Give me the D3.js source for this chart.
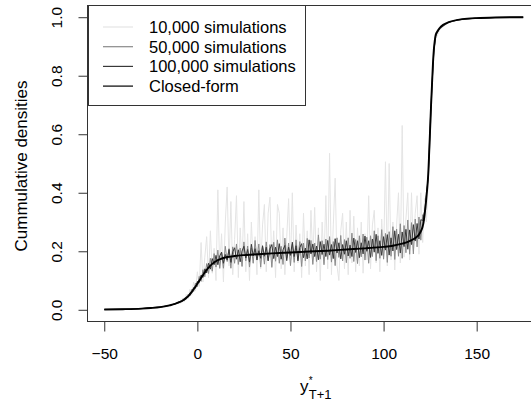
<!DOCTYPE html>
<html>
<head>
<meta charset="utf-8">
<script src="https://cdn.jsdelivr.net/npm/d3@7"></script>
<style>
  html, body { margin: 0; padding: 0; background: #fff; }
  svg { display: block; font-family: "Liberation Sans", Arial, sans-serif; }
</style>
</head>
<body>
<svg id="chart" width="531" height="403"></svg>
<script>
// ---------------- data ----------------
const xTicks = [-50, 0, 50, 100, 150];
const yTicks = [0, 0.2, 0.4, 0.6, 0.8, 1.0];
const legendLabels = ["10,000 simulations", "50,000 simulations", "100,000 simulations", "Closed-form"];

// closed-form cumulative density (x, value)
const closedX = [-50,-40,-30,-25,-20,-15,-12,-10,-8,-6,-4,-2,0,2,4,6,8,10,12,14,17,20,25,30,40,50,60,70,80,90,100,105,110,113,115,117,118,119,120,121,121.5,122,122.5,123,123.5,124,124.5,125,125.5,126,126.5,127,127.5,128,129,130,132,135,140,145,150,160,175];
const closedY = [0.001,0.002,0.004,0.006,0.009,0.015,0.020,0.025,0.031,0.040,0.053,0.070,0.089,0.109,0.128,0.144,0.157,0.166,0.172,0.177,0.181,0.184,0.187,0.189,0.193,0.196,0.199,0.202,0.206,0.210,0.215,0.219,0.226,0.232,0.238,0.245,0.250,0.257,0.268,0.285,0.300,0.325,0.350,0.385,0.420,0.465,0.540,0.620,0.700,0.770,0.840,0.890,0.920,0.940,0.953,0.962,0.974,0.983,0.991,0.995,0.997,0.999,1.000];

// evaluation points of the simulated curves
const simX = [-50,-40,-30,-20,-15,-12].concat(d3.range(-10, 125)).concat([125,126,127,128,130,135,140,150,160,175]);

const sim10k = [0.001,0.002,0.005,0.008,0.017,0.019,
  0.030,0.022,0.040,0.028,0.052,0.038,0.070,0.050,0.095,0.065,
  0.130,0.080,0.230,0.095,0.180,0.250,0.110,0.270,0.125,0.210,
  0.100,0.410,0.140,0.260,0.095,0.300,0.420,0.150,0.370,0.120,
  0.240,0.390,0.110,0.280,0.150,0.370,0.130,0.260,0.100,0.300,
  0.160,0.250,0.120,0.410,0.140,0.290,0.360,0.130,0.330,0.385,
  0.150,0.270,0.110,0.360,0.330,0.140,0.280,0.120,0.250,0.380,
  0.150,0.400,0.130,0.290,0.160,0.260,0.110,0.330,0.150,0.270,
  0.120,0.340,0.170,0.350,0.130,0.280,0.100,0.300,0.160,0.390,
  0.140,0.535,0.120,0.290,0.450,0.150,0.100,0.270,0.330,0.140,
  0.300,0.120,0.340,0.160,0.320,0.130,0.280,0.150,0.300,0.125,
  0.260,0.170,0.390,0.140,0.290,0.340,0.160,0.280,0.130,0.310,
  0.180,0.506,0.150,0.500,0.170,0.300,0.136,0.290,0.400,0.160,
  0.630,0.180,0.310,0.400,0.170,0.400,0.200,0.330,0.390,0.190,
  0.400,0.230,0.380,0.300,0.440,
  0.580,0.740,0.900,0.925,0.955,0.985,0.990,0.996,0.999,1.000];

const sim50k = [0.001,0.002,0.004,0.010,0.014,0.021,
  0.023,0.032,0.028,0.040,0.036,0.053,0.047,0.070,0.062,0.091,
  0.079,0.114,0.097,0.137,0.113,0.158,0.124,0.176,0.132,0.192,
  0.146,0.204,0.142,0.195,0.142,0.217,0.165,0.209,0.142,0.215,
  0.159,0.225,0.155,0.211,0.148,0.232,0.167,0.218,0.146,0.211,
  0.159,0.237,0.172,0.225,0.146,0.216,0.156,0.232,0.170,0.223,
  0.145,0.231,0.166,0.239,0.159,0.217,0.155,0.245,0.176,0.228,
  0.151,0.224,0.162,0.239,0.172,0.233,0.148,0.228,0.167,0.244,
  0.177,0.237,0.155,0.228,0.165,0.256,0.173,0.236,0.154,0.242,
  0.172,0.250,0.163,0.233,0.151,0.246,0.179,0.254,0.167,0.240,
  0.161,0.246,0.176,0.262,0.165,0.240,0.158,0.253,0.181,0.259,
  0.170,0.248,0.159,0.253,0.182,0.270,0.168,0.253,0.176,0.274,
  0.173,0.261,0.162,0.267,0.183,0.284,0.172,0.276,0.183,0.294,
  0.176,0.288,0.195,0.307,0.190,0.298,0.191,0.310,0.215,0.317,
  0.238,0.325,0.305,0.400,0.445,
  0.600,0.765,0.880,0.940,0.961,0.982,0.991,0.997,0.999,1.000];

const sim100k = [0.001,0.002,0.004,0.009,0.015,0.020,
  0.027,0.027,0.034,0.033,0.044,0.043,0.058,0.057,0.076,0.074,
  0.097,0.093,0.119,0.111,0.140,0.126,0.159,0.139,0.175,0.154,
  0.186,0.154,0.184,0.197,0.159,0.189,0.170,0.206,0.162,0.198,
  0.212,0.173,0.205,0.164,0.201,0.217,0.177,0.206,0.163,0.224,
  0.184,0.209,0.170,0.202,0.176,0.219,0.183,0.214,0.167,0.208,
  0.223,0.175,0.214,0.182,0.226,0.173,0.205,0.220,0.168,0.214,
  0.186,0.231,0.182,0.219,0.167,0.213,0.226,0.178,0.211,0.174,
  0.239,0.191,0.225,0.182,0.218,0.171,0.233,0.189,0.224,0.182,
  0.237,0.187,0.223,0.175,0.243,0.194,0.229,0.174,0.223,0.190,
  0.236,0.184,0.221,0.182,0.245,0.196,0.236,0.178,0.229,0.191,
  0.252,0.200,0.236,0.179,0.242,0.197,0.258,0.193,0.236,0.186,
  0.250,0.204,0.257,0.187,0.246,0.201,0.270,0.206,0.258,0.194,
  0.266,0.216,0.275,0.207,0.273,0.223,0.291,0.235,0.295,0.242,
  0.308,0.305,0.335,0.390,0.460,
  0.630,0.770,0.885,0.935,0.962,0.983,0.991,0.997,0.999,1.000];

const seriesColors = ["#e4e4e4", "#8a8a8a", "#383838", "#000000"];

// ---------------- drawing ----------------
const svg = d3.select("#chart");
const W = 531, H = 403;
const plot = { left: 87.5, right: 540, top: 5.5, bottom: 321.5 };

const x = d3.scaleLinear().domain([-59, 184]).range([plot.left, plot.right]);
const y = d3.scaleLinear().domain([-0.04, 1.04]).range([plot.bottom, plot.top]);

svg.append("rect").attr("width", W).attr("height", H).attr("fill", "#fff");

svg.append("clipPath").attr("id", "clip")
  .append("rect").attr("x", plot.left).attr("y", plot.top)
  .attr("width", plot.right - plot.left).attr("height", plot.bottom - plot.top);

const g = svg.append("g").attr("clip-path", "url(#clip)");

const line = d3.line().x(d => x(d[0])).y(d => y(d[1]));
const simSeries = [sim10k, sim50k, sim100k];
simSeries.forEach((vals, i) => {
  g.append("path")
    .datum(simX.map((xv, k) => [xv, vals[k]]))
    .attr("fill", "none")
    .attr("stroke", seriesColors[i])
    .attr("stroke-width", 1)
    .attr("d", line);
});

g.append("path")
  .datum(closedX.map((xv, k) => [xv, closedY[k]]))
  .attr("fill", "none")
  .attr("stroke", seriesColors[3])
  .attr("stroke-width", 1.9)
  .attr("d", d3.line().x(d => x(d[0])).y(d => y(d[1])).curve(d3.curveMonotoneX));

// plot box
svg.append("rect")
  .attr("x", plot.left).attr("y", plot.top)
  .attr("width", plot.right - plot.left).attr("height", plot.bottom - plot.top)
  .attr("fill", "none").attr("stroke", "#333").attr("stroke-width", 1);

// x axis
const xAxis = svg.append("g")
  .attr("transform", `translate(0,${plot.bottom})`)
  .call(d3.axisBottom(x).tickValues(xTicks).tickSize(10).tickFormat(d3.format("d")));
xAxis.select(".domain").remove();
xAxis.selectAll(".tick line").attr("stroke", "#333");
xAxis.selectAll(".tick text")
  .attr("y", 37.5).attr("dy", 0)
  .attr("font-size", "15.5px").attr("font-family", "Liberation Sans, Arial, sans-serif")
  .attr("fill", "#000");

// y axis
const yAxis = svg.append("g")
  .attr("transform", `translate(${plot.left},0)`)
  .call(d3.axisLeft(y).tickValues(yTicks).tickSize(9).tickFormat(d3.format(".1f")));
yAxis.select(".domain").remove();
yAxis.selectAll(".tick line").attr("stroke", "#333");
yAxis.selectAll(".tick text")
  .attr("x", 0).attr("dy", 0)
  .attr("transform", "translate(-26,0) rotate(-90)")
  .attr("text-anchor", "middle")
  .attr("font-size", "15.5px").attr("font-family", "Liberation Sans, Arial, sans-serif")
  .attr("fill", "#000");

// axis titles
svg.append("text")
  .attr("transform", "translate(27,166) rotate(-90)")
  .attr("text-anchor", "middle")
  .attr("font-size", "17px")
  .text("Cummulative densities");

const xt = svg.append("g").attr("font-size", "17px");
xt.append("text").attr("x", 300).attr("y", 392).text("y");
xt.append("text").attr("x", 308.8).attr("y", 384).attr("font-size", "10px").text("*");
xt.append("text").attr("x", 308.8).attr("y", 399).attr("font-size", "13px").text("T+1");

// legend
const lg = svg.append("g");
lg.append("rect")
  .attr("x", 88.5).attr("y", 5.5).attr("width", 217).attr("height", 100)
  .attr("fill", "#fff").attr("stroke", "#333").attr("stroke-width", 1);
legendLabels.forEach((lab, i) => {
  const cy = 27 + i * 19.7;
  lg.append("line")
    .attr("x1", 103).attr("x2", 133).attr("y1", cy).attr("y2", cy)
    .attr("stroke", seriesColors[i]).attr("stroke-width", 1.2);
  lg.append("text")
    .attr("x", 149).attr("y", cy + 5.8)
    .attr("font-size", "16.5px")
    .text(lab);
});
</script>
</body>
</html>
